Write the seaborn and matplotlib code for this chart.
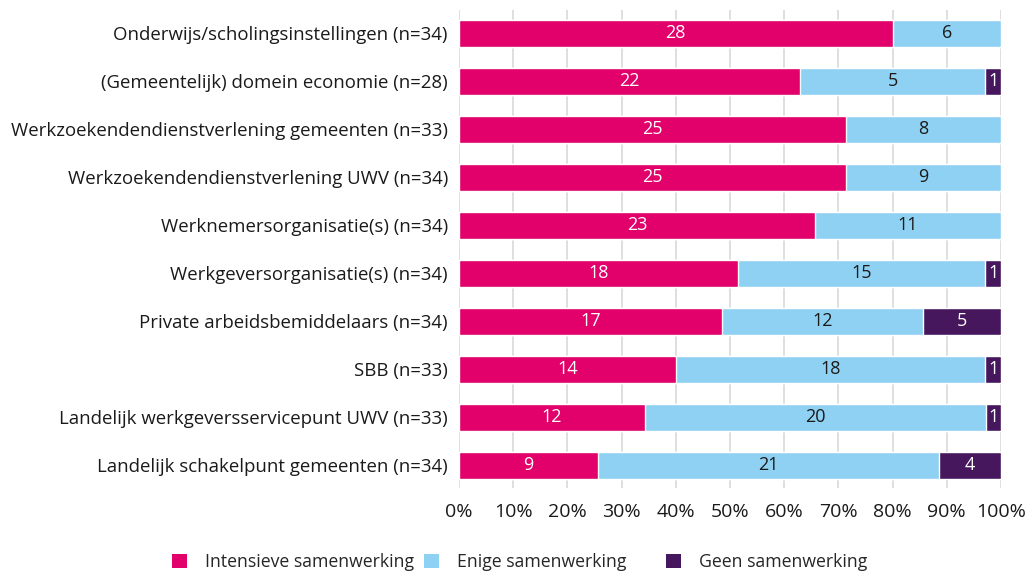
import numpy as np
import pandas as pd
import matplotlib
matplotlib.use("Agg")
import matplotlib.pyplot as plt
from matplotlib.patches import Patch
import seaborn as sns

# -----------------------------
# Data
# -----------------------------
categories = [
    "Onderwijs/scholingsinstellingen (n=34)",
    "(Gemeentelijk) domein economie (n=28)",
    "Werkzoekendendienstverlening gemeenten (n=33)",
    "Werkzoekendendienstverlening UWV (n=34)",
    "Werknemersorganisatie(s) (n=34)",
    "Werkgeversorganisatie(s) (n=34)",
    "Private arbeidsbemiddelaars (n=34)",
    "SBB (n=33)",
    "Landelijk werkgeversservicepunt UWV (n=33)",
    "Landelijk schakelpunt gemeenten (n=34)",
]
# counts printed in the bars
lab_intensief = [28, 22, 25, 25, 23, 18, 17, 14, 12, 9]
lab_enige = [6, 5, 8, 9, 11, 15, 12, 18, 20, 21]
lab_geen = [0, 1, 0, 0, 0, 1, 5, 1, 1, 4]
# segment widths (%) as drawn in the picture
pct_intensief = [80.0, 62.9, 71.4, 71.4, 65.7, 51.4, 48.6, 40.0, 34.3, 25.7]
pct_enige = [20.0, 34.2, 28.6, 28.6, 34.3, 45.7, 37.1, 57.1, 62.9, 62.9]
pct_geen = [0.0, 2.9, 0.0, 0.0, 0.0, 2.9, 14.3, 2.9, 2.8, 11.4]
series_names = ["Intensieve samenwerking", "Enige samenwerking", "Geen samenwerking"]
x_ticks = [0, 10, 20, 30, 40, 50, 60, 70, 80, 90, 100]

colors = ["#E2006A", "#8FD1F2", "#46175C"]
text_colors = ["white", "#1a1a1a", "white"]

# -----------------------------
# Build cumulative table
# -----------------------------
df = pd.DataFrame({"cat": categories,
                   "p_int": pct_intensief, "p_eni": pct_enige, "p_geen": pct_geen,
                   "int": lab_intensief, "eni": lab_enige, "geen": lab_geen})
df["c1"] = df["p_int"]
df["c2"] = df["c1"] + df["p_eni"]
df["c3"] = df["c2"] + df["p_geen"]

sns.set_style("white")
plt.rcParams["font.family"] = ["Open Sans", "DejaVu Sans"]

fig = plt.figure(figsize=(10.33, 5.72), dpi=100)
ax = fig.add_axes([0.4443, 0.1469, 0.5247, 0.8357])

# stacked bars: draw cumulative totals back to front
for col, color in zip(["c3", "c2", "c1"], colors[::-1]):
    sns.barplot(data=df, x=col, y="cat", color=color, orient="h",
                width=0.556, saturation=1, ax=ax, zorder=3)

# segment labels
for i, row in df.iterrows():
    starts = [0, row["c1"], row["c2"]]
    widths = [row["p_int"], row["p_eni"], row["p_geen"]]
    counts = [row["int"], row["eni"], row["geen"]]
    for s, w, c, tc in zip(starts, widths, counts, text_colors):
        if c > 0:
            ax.text(s + w / 2, i, str(c), ha="center", va="center",
                    color=tc, fontsize=13, zorder=4)

ax.set_xlim(0, 100)
ax.set_ylim(9.47, -0.486)
ax.set_xticks(x_ticks)
ax.set_xticklabels([f"{t}%" for t in x_ticks], fontsize=14, color="#1a1a1a")
ax.tick_params(axis="y", labelsize=13.4, labelcolor="#1a1a1a", length=0, pad=8)
ax.tick_params(axis="x", length=0, pad=11)
ax.set_xlabel("")
ax.set_ylabel("")
ax.grid(axis="x", color="#dcdcdc", linewidth=1.3, zorder=0)
for sp in ax.spines.values():
    sp.set_visible(False)

# legend: one entry per position as in the original layout
legend_x = [172 / 1033, 424 / 1033, 666 / 1033]
for name, color, lx in zip(series_names, colors, legend_x):
    leg = fig.legend([Patch(facecolor=color, edgecolor="none")], [name],
                     loc="center left", bbox_to_anchor=(lx, 0.018),
                     frameon=False, fontsize=12.7, handlelength=0.85, handleheight=0.85,
                     handletextpad=1.0, borderpad=0, borderaxespad=0)

fig.savefig("out.png", dpi=100)
